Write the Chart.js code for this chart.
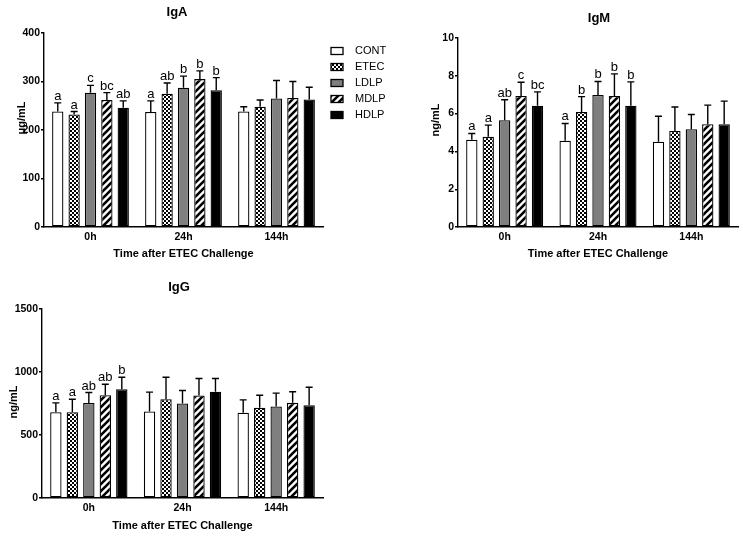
<!DOCTYPE html>
<html><head><meta charset="utf-8">
<script src="https://cdn.jsdelivr.net/npm/chart.js@4.4.1/dist/chart.umd.min.js"></script>
<style>
html,body{margin:0;padding:0;background:#fff;width:743px;height:539px;overflow:hidden;}
canvas{position:absolute;}
</style></head><body>
<canvas id="cA" width="400" height="268" style="left:0;top:0;width:400px;height:268px"></canvas>
<canvas id="cM" width="343" height="268" style="left:400px;top:0;width:343px;height:268px"></canvas>
<canvas id="cG" width="400" height="269" style="left:0;top:270px;width:400px;height:269px"></canvas>
<script>
// ---------- data ----------
const categories = ['0h', '24h', '144h'];
const seriesNames = ['CONT', 'ETEC', 'LDLP', 'MDLP', 'HDLP'];

// IgA (μg/mL): one row per series, one value per time point
const igaMeans = [[238, 237, 238], [232, 275, 248], [277, 287, 265], [262, 305, 266], [246, 282, 263]];
const igaErrors = [[18, 23, 10], [6, 22, 14], [15, 24, 37], [15, 17, 34], [14, 26, 25]];
const igaLetters = [['a', 'a', ''], ['a', 'ab', ''], ['c', 'b', ''], ['bc', 'b', ''], ['ab', 'b', '']];
const igaTicks = [0, 100, 200, 300, 400];

// IgM (ng/mL)
const igmMeans = [[4.62, 4.57, 4.51], [4.77, 6.09, 5.08], [5.65, 6.99, 5.17], [6.93, 6.93, 5.44], [6.42, 6.42, 5.44]];
const igmErrors = [[0.33, 0.91, 1.35], [0.62, 0.81, 1.27], [1.08, 0.71, 0.78], [0.73, 1.17, 1.01], [0.73, 1.26, 1.22]];
const igmLetters = [['a', 'a', ''], ['a', 'b', ''], ['ab', 'b', ''], ['c', 'b', ''], ['bc', 'b', '']];
const igmTicks = [0, 2, 4, 6, 8, 10];

// IgG (ng/mL)
const iggMeans = [[681, 686, 676], [681, 784, 716], [754, 750, 726], [816, 813, 755], [863, 843, 737]];
const iggErrors = [[74, 154, 103], [103, 174, 100], [83, 103, 106], [87, 135, 88], [95, 105, 142]];
const iggLetters = [['a', '', ''], ['a', '', ''], ['ab', '', ''], ['ab', '', ''], ['b', '', '']];
const iggTicks = [0, 500, 1000, 1500];

// ---------- styles ----------
const FONT = '"Liberation Sans", Arial, Helvetica, sans-serif';
Chart.defaults.font.family = FONT;
Chart.defaults.color = '#000';

function makeChecker() {
  const c = document.createElement('canvas'); c.width = 4; c.height = 4;
  const x = c.getContext('2d');
  x.fillStyle = '#fff'; x.fillRect(0, 0, 4, 4);
  x.fillStyle = '#000'; x.fillRect(0, 0, 2, 2); x.fillRect(2, 2, 2, 2);
  return x.createPattern(c, 'repeat');
}
function makeStripes() {
  const s = 7;
  const c = document.createElement('canvas'); c.width = s; c.height = s;
  const x = c.getContext('2d');
  x.fillStyle = '#fff'; x.fillRect(0, 0, s, s);
  x.strokeStyle = '#000'; x.lineWidth = 2.6;
  x.beginPath();
  x.moveTo(-s, s); x.lineTo(s, -s);
  x.moveTo(0, s); x.lineTo(s, 0);
  x.moveTo(0, 2 * s); x.lineTo(2 * s, 0);
  x.stroke();
  return x.createPattern(c, 'repeat');
}
const fills = ['#ffffff', makeChecker(), '#7f7f7f', makeStripes(), '#000000'];

const decor = {
  id: 'decor',
  afterDatasetsDraw(chart, args, o) {
    const ctx = chart.ctx, ys = chart.scales.y, ca = chart.chartArea;
    ctx.save();
    ctx.strokeStyle = '#000'; ctx.lineWidth = 1.4; ctx.fillStyle = '#000';
    chart.data.datasets.forEach((ds, i) => {
      const meta = chart.getDatasetMeta(i);
      meta.data.forEach((bar, j) => {
        const top = ys.getPixelForValue(ds.data[j] + ds.errors[j]);
        ctx.beginPath();
        ctx.moveTo(bar.x, bar.y); ctx.lineTo(bar.x, top);
        ctx.moveTo(bar.x - 3.5, top); ctx.lineTo(bar.x + 3.5, top);
        ctx.stroke();
        const L = ds.letters[j];
        if (L) {
          ctx.font = '13px ' + FONT; ctx.textAlign = 'center'; ctx.textBaseline = 'alphabetic';
          ctx.fillText(L, bar.x, top - 3);
        }
      });
    });
    // titles
    ctx.textAlign = 'center'; ctx.textBaseline = 'middle';
    ctx.font = 'bold 13px ' + FONT;
    ctx.fillText(o.title, o.titleX, o.titleY);
    ctx.font = 'bold 11px ' + FONT;
    ctx.fillText(o.xTitle, (ca.left + ca.right) / 2, o.xTitleY);
    ctx.save();
    ctx.translate(o.yTitleX, o.yTitleY); ctx.rotate(-Math.PI / 2);
    ctx.fillText(o.yTitle, 0, 0);
    ctx.restore();
    // legend
    if (o.legend) {
      const lg = o.legend;
      chart.data.datasets.forEach((ds, i) => {
        const cy = lg.y + i * lg.dy;
        ctx.fillStyle = ds.backgroundColor;
        ctx.fillRect(lg.x, cy - lg.h / 2, lg.w, lg.h);
        ctx.lineWidth = 1.3; ctx.strokeStyle = '#000';
        ctx.strokeRect(lg.x, cy - lg.h / 2, lg.w, lg.h);
        ctx.fillStyle = '#000';
        ctx.font = '11px ' + FONT; ctx.textAlign = 'left'; ctx.textBaseline = 'middle';
        ctx.fillText(ds.label, lg.textX, cy);
      });
    }
    ctx.restore();
  }
};

function makeChart(id, means, errors, letters, ticks, geo, texts) {
  const canvas = document.getElementById(id);
  const W = canvas.width, H = canvas.height;
  const datasets = seriesNames.map((name, i) => ({
    label: name,
    data: means[i],
    errors: errors[i],
    letters: letters[i],
    backgroundColor: fills[i],
    borderColor: '#000',
    borderWidth: 1.3,
    borderSkipped: false,
    categoryPercentage: 0.88,
    barPercentage: 0.69
  }));
  return new Chart(canvas, {
    type: 'bar',
    data: { labels: categories, datasets },
    plugins: [decor],
    options: {
      responsive: false,
      animation: false,
      devicePixelRatio: 1,
      layout: { autoPadding: false, padding: { left: 0, top: geo.top, right: W - geo.right, bottom: 0 } },
      plugins: {
        legend: { display: false },
        tooltip: { enabled: false },
        decor: texts
      },
      scales: {
        x: {
          type: 'category',
          grid: { display: true, drawOnChartArea: false, drawTicks: false },
          border: { display: true, color: '#000', width: 1.4 },
          ticks: { font: { size: 10.5, weight: 'bold' }, padding: 4, color: '#000' },
          afterFit: s => { s.height = H - geo.bottom; }
        },
        y: {
          min: ticks[0], max: ticks[ticks.length - 1],
          afterBuildTicks: s => { s.ticks = ticks.map(v => ({ value: v })); },
          grid: { display: true, drawOnChartArea: false, drawTicks: true, tickLength: 3, color: '#000', lineWidth: 1.4 },
          border: { display: true, color: '#000', width: 1.4 },
          ticks: { font: { size: 10.5, weight: 'bold' }, padding: 1, color: '#000', callback: v => String(v) },
          afterFit: s => { s.width = geo.left; }
        }
      }
    }
  });
}

makeChart('cA', igaMeans, igaErrors, igaLetters, igaTicks,
  { left: 44, right: 323, top: 33, bottom: 227 },
  { title: 'IgA', titleX: 177, titleY: 12, xTitle: 'Time after ETEC Challenge', xTitleY: 254,
    yTitle: 'μg/mL', yTitleX: 22, yTitleY: 118,
    legend: { x: 331, y: 51, dy: 16, w: 12, h: 7, textX: 355 } });

makeChart('cM', igmMeans, igmErrors, igmLetters, igmTicks,
  { left: 58, right: 338, top: 38, bottom: 227 },
  { title: 'IgM', titleX: 199, titleY: 18, xTitle: 'Time after ETEC Challenge', xTitleY: 254,
    yTitle: 'ng/mL', yTitleX: 36, yTitleY: 120 });

makeChart('cG', iggMeans, iggErrors, iggLetters, iggTicks,
  { left: 42, right: 323, top: 39, bottom: 228 },
  { title: 'IgG', titleX: 179, titleY: 17, xTitle: 'Time after ETEC Challenge', xTitleY: 256,
    yTitle: 'ng/mL', yTitleX: 14, yTitleY: 132 });
</script>
</body></html>
